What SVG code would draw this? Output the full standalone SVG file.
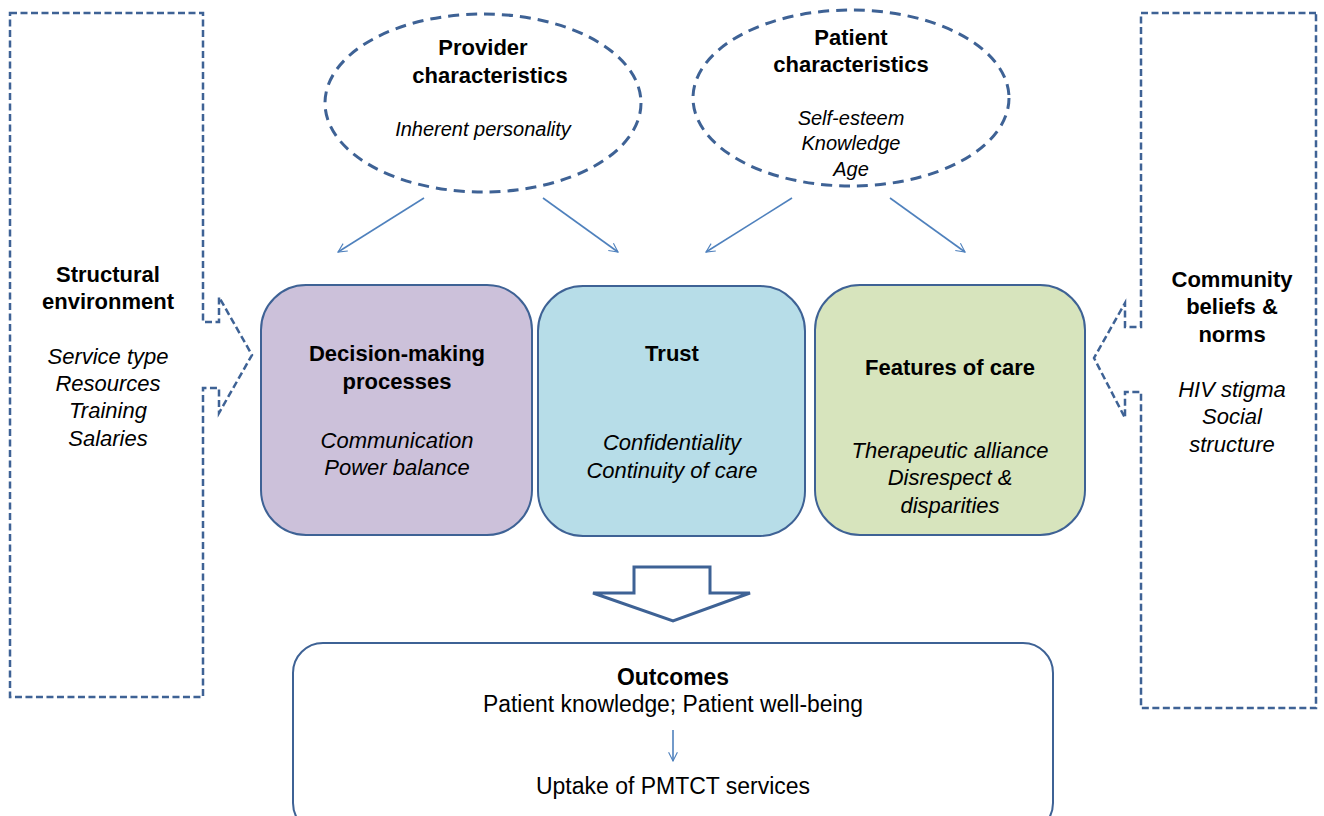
<svg xmlns="http://www.w3.org/2000/svg" width="1324" height="816" viewBox="0 0 1324 816">
<defs>
<style>
text{font-family:"Liberation Sans",Arial,sans-serif;font-size:22px;fill:#000;text-anchor:middle}
.b{font-weight:bold}
.i{font-style:italic}
.o{font-size:23px}
.dash{fill:#fff;stroke:#3e6295;stroke-width:2.5;stroke-dasharray:7 3.5}
.ell{fill:#fff;stroke:#3e6295;stroke-width:3;stroke-dasharray:11 7}
.box{stroke:#3e6295;stroke-width:2}
.thin{stroke:#4f81bd;stroke-width:1.6;fill:none}
</style>
<marker id="ah" viewBox="0 0 20 20" refX="18" refY="10" markerWidth="11" markerHeight="11" markerUnits="userSpaceOnUse" orient="auto">
<path d="M2,2 L18,10 L2,18" fill="none" stroke="#4f81bd" stroke-width="2"/>
</marker>
</defs>
<rect width="1324" height="816" fill="#fff"/>

<g id="structural">
<path class="dash" d="M10,13 H203 V322 H219 V297 L252,355 L219,413 V388 H203 V697 H10 Z"/>
<text class="b" x="108" y="282">Structural</text>
<text class="b" x="108" y="309">environment</text>
<text class="i" x="108" y="364">Service type</text>
<text class="i" x="108" y="391">Resources</text>
<text class="i" x="108" y="418">Training</text>
<text class="i" x="108" y="446">Salaries</text>
</g>

<g id="community">
<path class="dash" d="M1316,13 H1141 V327 H1125 V303 L1094,358 L1125,418 V392 H1141 V708 H1316 Z"/>
<text class="b" x="1232" y="287">Community</text>
<text class="b" x="1232" y="314">beliefs &amp;</text>
<text class="b" x="1232" y="342">norms</text>
<text class="i" x="1232" y="397">HIV stigma</text>
<text class="i" x="1232" y="424">Social</text>
<text class="i" x="1232" y="452">structure</text>
</g>

<g id="provider">
<ellipse class="ell" cx="483" cy="103" rx="158" ry="89"/>
<text class="b" x="483" y="55">Provider</text>
<text class="b" x="490" y="83">characteristics</text>
<text class="i" x="483" y="136" style="font-size:20px">Inherent personality</text>
</g>

<g id="patient">
<ellipse class="ell" cx="851" cy="98" rx="158" ry="88"/>
<text class="b" x="851" y="45">Patient</text>
<text class="b" x="851" y="72">characteristics</text>
<text class="i" x="851" y="125" style="font-size:20px">Self-esteem</text>
<text class="i" x="851" y="150" style="font-size:20px">Knowledge</text>
<text class="i" x="851" y="176" style="font-size:20px">Age</text>
</g>

<g id="decision">
<rect class="box" x="261" y="285" width="271" height="250" rx="45" fill="#ccc1da"/>
<text class="b" x="397" y="361">Decision-making</text>
<text class="b" x="397" y="389">processes</text>
<text class="i" x="397" y="448">Communication</text>
<text class="i" x="397" y="475">Power balance</text>
</g>

<g id="trust">
<rect class="box" x="538" y="286" width="267" height="250" rx="45" fill="#b7dde8"/>
<text class="b" x="672" y="361">Trust</text>
<text class="i" x="672" y="450">Confidentiality</text>
<text class="i" x="672" y="478">Continuity of care</text>
</g>

<g id="features">
<rect class="box" x="815" y="285" width="270" height="250" rx="45" fill="#d7e4bd"/>
<text class="b" x="950" y="375">Features of care</text>
<text class="i" x="950" y="458">Therapeutic alliance</text>
<text class="i" x="950" y="485">Disrespect &amp;</text>
<text class="i" x="950" y="513">disparities</text>
</g>

<g id="outcomes">
<rect class="box" x="293" y="643" width="760" height="190" rx="30" fill="#fff"/>
<text class="b o" x="673" y="685" textLength="112" lengthAdjust="spacingAndGlyphs">Outcomes</text>
<text class="o" x="673" y="712" textLength="380" lengthAdjust="spacingAndGlyphs">Patient knowledge; Patient well-being</text>
<text class="o" x="673" y="794" textLength="274" lengthAdjust="spacingAndGlyphs">Uptake of PMTCT services</text>
</g>

<g id="connectors">
<line class="thin" x1="424" y1="198" x2="338" y2="252" marker-end="url(#ah)"/>
<line class="thin" x1="543" y1="198" x2="618" y2="252" marker-end="url(#ah)"/>
<line class="thin" x1="792" y1="198" x2="706" y2="252" marker-end="url(#ah)"/>
<line class="thin" x1="890" y1="198" x2="965" y2="252" marker-end="url(#ah)"/>
<line class="thin" x1="673" y1="730" x2="673" y2="761" marker-end="url(#ah)"/>
<path d="M634,567 H710 V593 H750 L673,621 L593,593 H634 Z" fill="#fff" stroke="#3e6295" stroke-width="3"/>
</g>
</svg>
